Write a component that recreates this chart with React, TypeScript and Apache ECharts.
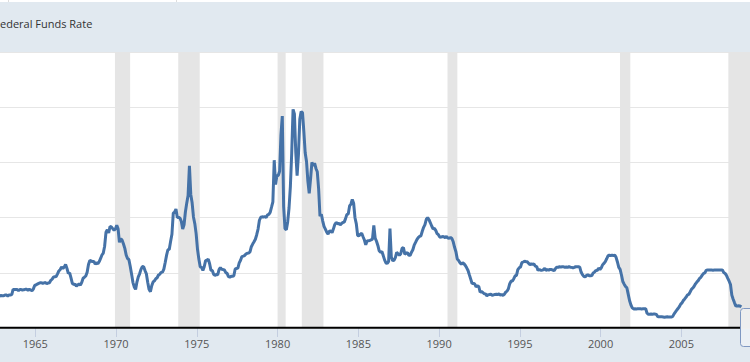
import React, { useEffect, useRef } from "react";
import * as echarts from "echarts";

// Monthly effective federal funds rate (%), starting October 1962
const startYear = 1962;
const startMonth = 9; // 0-based: October

const ffr1960s = [
  2.90, 2.94, 2.93,
  2.92, 3.00, 2.98, 2.90, 3.00, 2.99, 3.02, 3.49, 3.48, 3.50, 3.48, 3.38,
  3.48, 3.48, 3.43, 3.47, 3.50, 3.50, 3.42, 3.50, 3.45, 3.36, 3.52, 3.85,
  3.90, 3.98, 4.04, 4.09, 4.10, 4.04, 4.09, 4.12, 4.01, 4.08, 4.10, 4.32,
  4.42, 4.60, 4.65, 4.67, 4.90, 5.17, 5.30, 5.53, 5.40, 5.53, 5.76, 5.40,
  4.94, 5.00, 4.53, 4.05, 3.94, 3.98, 3.79, 3.90, 3.99, 3.88, 4.13, 4.51,
  4.60, 4.71, 5.05, 5.76, 6.11, 6.07, 6.02, 6.03, 5.78, 5.91, 5.82, 6.02,
  6.30, 6.61, 6.79, 7.41, 8.67, 8.90, 8.61, 9.19, 9.15, 9.00, 8.85, 8.97,
];

const ffr1970s = [
  9.30, 8.98, 7.76, 8.10, 7.95, 7.61, 7.21, 6.61, 6.29, 6.20, 5.60, 4.90,
  4.14, 3.72, 3.50, 4.16, 4.63, 4.91, 5.31, 5.56, 5.55, 5.20, 4.91, 4.14,
  3.50, 3.29, 3.83, 4.17, 4.27, 4.46, 4.55, 4.80, 4.87, 5.04, 5.06, 5.33,
  5.94, 6.58, 7.09, 7.12, 7.84, 8.49, 10.40, 10.50, 10.78, 10.01, 10.03, 9.95,
  9.65, 8.97, 9.35, 10.51, 11.31, 12.00, 14.70, 12.10, 11.34, 10.06, 9.45, 8.53,
  7.13, 6.24, 5.54, 5.49, 5.22, 5.55, 6.10, 6.14, 6.24, 5.82, 5.22, 5.20,
  4.87, 4.77, 4.84, 4.82, 5.29, 5.48, 5.31, 5.29, 5.25, 5.02, 4.95, 4.65,
  4.61, 4.68, 4.69, 4.73, 5.35, 5.39, 5.42, 5.90, 6.14, 6.47, 6.51, 6.56,
  6.70, 6.78, 6.79, 6.89, 7.36, 7.60, 7.81, 8.04, 8.45, 8.96, 9.76, 10.03,
  10.07, 10.06, 10.09, 10.01, 10.24, 10.29, 10.47, 10.94, 11.43, 15.20, 13.00, 13.80,
];

const ffr1980s = [
  13.82, 14.20, 17.50, 19.20, 10.98, 9.00, 8.90, 9.61, 10.87, 12.81, 15.85, 19.80,
  19.40, 15.93, 13.80, 15.70, 18.90, 19.60, 19.50, 17.82, 15.87, 15.08, 13.31, 12.20,
  13.50, 15.00, 14.68, 14.94, 14.45, 14.15, 12.59, 10.12, 10.31, 9.71, 9.20, 8.95,
  8.68, 8.51, 8.77, 8.80, 8.63, 8.98, 9.37, 9.56, 9.45, 9.48, 9.34, 9.47,
  9.56, 9.59, 9.91, 10.29, 10.32, 11.06, 11.23, 11.64, 11.30, 9.99, 9.43, 8.38,
  8.35, 8.50, 8.58, 8.27, 7.97, 7.53, 7.88, 7.90, 7.92, 7.99, 8.05, 9.30,
  8.14, 7.86, 7.48, 6.99, 6.85, 6.92, 6.56, 6.17, 5.89, 5.85, 6.04, 9.00,
  6.43, 6.10, 6.13, 6.37, 6.85, 6.73, 6.58, 6.73, 7.22, 7.29, 6.69, 6.77,
  6.83, 6.58, 6.58, 6.87, 7.09, 7.51, 7.75, 8.01, 8.19, 8.30, 8.35, 8.76,
  9.12, 9.36, 9.85, 10.00, 9.81, 9.53, 9.24, 8.99, 9.02, 8.84, 8.55, 8.45,
];

const ffr1990s = [
  8.23, 8.24, 8.28, 8.26, 8.18, 8.29, 8.15, 8.13, 8.20, 8.11, 7.81, 7.31,
  6.91, 6.25, 6.12, 5.91, 5.78, 5.90, 5.82, 5.66, 5.45, 5.21, 4.81, 4.43,
  4.03, 4.06, 3.98, 3.73, 3.82, 3.76, 3.25, 3.30, 3.22, 3.10, 3.09, 2.92,
  3.02, 3.03, 3.07, 2.96, 3.00, 3.04, 3.06, 3.03, 3.09, 2.99, 3.02, 2.96,
  3.05, 3.25, 3.34, 3.56, 4.01, 4.25, 4.26, 4.47, 4.73, 4.76, 5.29, 5.45,
  5.53, 5.92, 5.98, 6.05, 6.01, 6.00, 5.85, 5.74, 5.80, 5.76, 5.80, 5.60,
  5.56, 5.22, 5.31, 5.22, 5.24, 5.27, 5.40, 5.22, 5.30, 5.24, 5.31, 5.29,
  5.25, 5.19, 5.39, 5.51, 5.50, 5.56, 5.52, 5.54, 5.54, 5.50, 5.52, 5.50,
  5.56, 5.51, 5.49, 5.45, 5.49, 5.56, 5.54, 5.55, 5.51, 5.07, 4.83, 4.68,
  4.63, 4.76, 4.81, 4.74, 4.74, 4.76, 4.99, 5.07, 5.22, 5.20, 5.42, 5.30,
];

const ffr2000s = [
  5.45, 5.73, 5.85, 6.02, 6.27, 6.53, 6.60, 6.55, 6.60, 6.55, 6.60, 6.40,
  5.98, 5.49, 5.31, 4.80, 4.21, 3.97, 3.77, 3.65, 3.07, 2.49, 2.09, 1.82,
  1.73, 1.74, 1.73, 1.75, 1.75, 1.75, 1.73, 1.74, 1.75, 1.75, 1.34, 1.24,
  1.24, 1.26, 1.25, 1.26, 1.26, 1.22, 1.01, 1.03, 1.01, 1.01, 1.00, 0.98,
  1.00, 1.01, 1.00, 1.00, 1.00, 1.03, 1.26, 1.43, 1.61, 1.76, 1.93, 2.16,
  2.28, 2.50, 2.63, 2.79, 3.00, 3.04, 3.26, 3.50, 3.62, 3.78, 4.00, 4.16,
  4.29, 4.49, 4.59, 4.79, 4.94, 4.99, 5.24, 5.25, 5.25, 5.25, 5.25, 5.24,
  5.25, 5.26, 5.26, 5.25, 5.25, 5.25, 5.26, 5.02, 4.94, 4.76, 4.49, 4.24,
  3.94, 2.98, 2.61, 2.28, 1.98, 2.00, 2.01, 2.00, 1.90,
];

// Recession periods (decimal years)
const recessions: [number, number][] = [
  [1969.93, 1970.87],
  [1973.85, 1975.18],
  [1980.0, 1980.5],
  [1981.5, 1982.84],
  [1990.52, 1991.13],
  [2001.2, 2001.84],
  [2007.91, 2009.5],
];

const tickYears = [1965, 1970, 1975, 1980, 1985, 1990, 1995, 2000, 2005];
const titleText = "ederal Funds Rate";

export default function App() {
  const ref = useRef<HTMLDivElement>(null);

  useEffect(() => {
    if (!ref.current) return;
    const chart = echarts.init(ref.current, null, { renderer: "svg" });
    const values = [...ffr1960s, ...ffr1970s, ...ffr1980s, ...ffr1990s, ...ffr2000s];
    const data = values.map((v, i) => [startYear + (startMonth + i + 0.5) / 12, v]);

    chart.setOption({
      animation: false,
      backgroundColor: "#e1e9f0",
      grid: {
        left: 0,
        right: 0,
        top: 52,
        bottom: 34,
        show: true,
        backgroundColor: "#ffffff",
        borderWidth: 0,
      },
      xAxis: {
        type: "value",
        min: 1962.813,
        max: 2009.25,
        splitLine: { show: false },
        axisLine: { show: false },
        axisTick: {
          show: true,
          customValues: tickYears,
          length: 9,
          lineStyle: { color: "#c4cee0", width: 1 },
        },
        axisLabel: {
          show: true,
          customValues: tickYears,
          margin: 10,
          color: "#555555",
          fontSize: 11,
          fontFamily: "Open Sans",
          formatter: (v: number) => String(Math.round(v)),
        },
      },
      yAxis: {
        type: "value",
        min: 0,
        max: 25,
        interval: 5,
        axisLine: { show: false },
        axisTick: { show: false },
        axisLabel: { show: false },
        splitLine: { show: true, lineStyle: { color: "#e6e6e6", width: 1 } },
      },
      series: [
        {
          type: "line",
          data,
          showSymbol: false,
          symbol: "none",
          lineStyle: { color: "#4572a7", width: 3 },
          z: 3,
          markArea: {
            silent: true,
            itemStyle: { color: "#e5e5e5" },
            data: recessions.map(([a, b]) => [{ xAxis: a }, { xAxis: b }]),
          },
        },
      ],
      graphic: [
        {
          type: "rect",
          shape: { x: 0, y: 0, width: 750, height: 2 },
          style: { fill: "#ffffff" },
          silent: true,
        },
        {
          type: "line",
          shape: { x1: 8.5, y1: 0, x2: 8.5, y2: 2 },
          style: { stroke: "#dddddd", lineWidth: 1 },
          silent: true,
        },
        {
          type: "line",
          shape: { x1: 176.5, y1: 0, x2: 176.5, y2: 2 },
          style: { stroke: "#dddddd", lineWidth: 1 },
          silent: true,
        },
        {
          type: "text",
          x: 0,
          y: 23,
          style: {
            text: titleText,
            fill: "#333333",
            fontSize: 11,
            fontFamily: "Open Sans",
            verticalAlign: "middle",
            align: "left",
          },
          silent: true,
        },
        {
          type: "line",
          shape: { x1: 0, y1: 327.7, x2: 740.5, y2: 327.7 },
          style: { stroke: "#000000", lineWidth: 2 },
          z: 50,
          silent: true,
        },
        {
          type: "rect",
          shape: { x: 740.5, y: 308.5, width: 20, height: 38, r: 3 },
          style: { fill: "rgba(255,255,255,0.35)", stroke: "#7f98c2", lineWidth: 1 },
          z: 60,
          silent: true,
        },
      ],
    });

    return () => chart.dispose();
  }, []);

  return (
    <div
      ref={ref}
      style={{ position: "fixed", left: 0, top: 0, width: 750, height: 362 }}
    />
  );
}
